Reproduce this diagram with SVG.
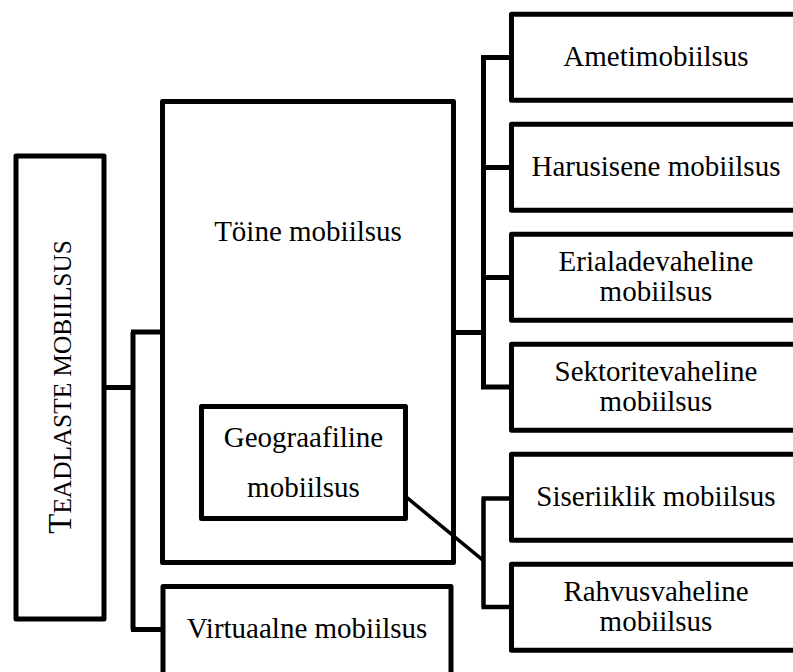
<svg xmlns="http://www.w3.org/2000/svg" width="793" height="672" viewBox="0 0 793 672">
<style>
.box{fill:#fff;stroke:#000;stroke-width:5;stroke-linejoin:round}
.t{font-family:"Liberation Serif","Times New Roman",serif;font-size:29px;fill:#000;text-anchor:middle}
.c{fill:none;stroke:#000;stroke-width:5;stroke-linejoin:miter}
</style>
<rect width="793" height="672" fill="#fff"/>
<g id="teadlaste">
<rect class="box" x="16" y="156" width="88" height="463"/>
<text class="t" transform="translate(71,387) rotate(-90)"><tspan font-size="33">T</tspan><tspan font-size="25.3">EADLASTE MOBIILSUS</tspan></text>
</g>
<g id="toine">
<rect class="box" x="162.5" y="101.5" width="291" height="461"/>
<text class="t" x="308" y="240.7">Töine mobiilsus</text>
</g>
<g id="geograafiline">
<rect class="box" x="201.5" y="406.5" width="204" height="112"/>
<text class="t" x="303.5" y="447">Geograafiline</text>
<text class="t" x="303.5" y="496.5">mobiilsus</text>
</g>
<g id="virtuaalne">
<rect class="box" x="163" y="586.5" width="288" height="100"/>
<text class="t" x="307" y="638.3">Virtuaalne mobiilsus</text>
</g>
<g id="ametimobiilsus">
<rect class="box" x="511.5" y="14.2" width="289" height="86"/>
<text class="t" x="656" y="65.7">Ametimobiilsus</text>
</g>
<g id="harusisene">
<rect class="box" x="511.5" y="124.2" width="289" height="86"/>
<text class="t" x="656" y="175.7">Harusisene mobiilsus</text>
</g>
<g id="erialadevaheline">
<rect class="box" x="511.5" y="234.2" width="289" height="86"/>
<text class="t" x="656" y="270.7">Erialadevaheline</text>
<text class="t" x="656" y="300.7">mobiilsus</text>
</g>
<g id="sektoritevaheline">
<rect class="box" x="511.5" y="344.2" width="289" height="86"/>
<text class="t" x="656" y="380.7">Sektoritevaheline</text>
<text class="t" x="656" y="411">mobiilsus</text>
</g>
<g id="siseriiklik">
<rect class="box" x="511.5" y="454.2" width="289" height="86"/>
<text class="t" x="656" y="505.5">Siseriiklik mobiilsus</text>
</g>
<g id="rahvusvaheline">
<rect class="box" x="511.5" y="564.2" width="289" height="86"/>
<text class="t" x="656" y="600.7">Rahvusvaheline</text>
<text class="t" x="656" y="630.7">mobiilsus</text>
</g>
<g id="connectors">
<path class="c" d="M104,387.5H133M133,332V629.5M131,332H162.5M131,629.5H163"/>
<path class="c" d="M453.5,332.5H483.5M483.5,57.5V387M481,57.5H511.5M483.5,167.5H511.5M483.5,277.5H511.5M481,387H511.5"/>
<path class="c" d="M483.5,498.5V607M481.5,498.5H511.5M481.5,607H511.5" style="stroke-width:4.5"/>
<path class="c" d="M405.8,496.7L483.5,560.7" style="stroke-width:3.5"/>
</g>
</svg>
